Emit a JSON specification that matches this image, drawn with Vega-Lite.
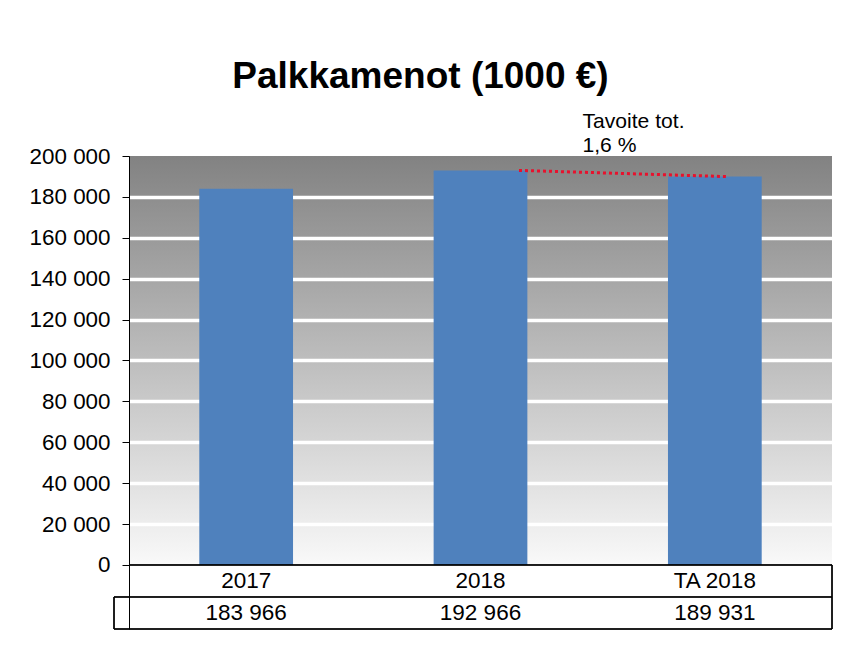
{
  "$schema": "https://vega.github.io/schema/vega-lite/v6.json",
  "autosize": "none",
  "padding": {"left": 129, "top": 156, "right": 23, "bottom": 37},
  "width": 703,
  "height": 473,
  "background": "white",
  "title": {
    "text": "Palkkamenot (1000 €)",
    "fontSize": 37,
    "fontWeight": "bold",
    "font": "Liberation Sans",
    "color": "black",
    "anchor": "middle",
    "frame": "group",
    "dx": -60,
    "offset": 15
  },
  "config": {
    "font": "Liberation Sans",
    "locale": {"number": {"decimal": ",", "thousands": " ", "grouping": [3], "currency": ["", " €"]}},
    "view": {
      "stroke": null,
      "fill": {
        "gradient": "linear",
        "x1": 0, "y1": 0, "x2": 0, "y2": 1,
        "stops": [
          {"offset": 0, "color": "#828282"},
          {"offset": 0.8647, "color": "#f9f9f9"},
          {"offset": 0.8648, "color": "#ffffff"},
          {"offset": 1, "color": "#ffffff"}
        ]
      }
    }
  },
  "data": {
    "values": [
      {"vuosi": "2017", "palkkamenot": 183966},
      {"vuosi": "2018", "palkkamenot": 192966},
      {"vuosi": "TA 2018", "palkkamenot": 189931}
    ]
  },
  "encoding": {
    "x": {
      "field": "vuosi",
      "type": "nominal",
      "sort": null,
      "scale": {"paddingInner": 0.6, "paddingOuter": 0.3},
      "axis": null
    }
  },
  "layer": [
    {
      "mark": {"type": "bar", "color": "#4F81BD"},
      "encoding": {
        "y": {
          "field": "palkkamenot",
          "type": "quantitative",
          "scale": {"domain": [-31300, 200000], "nice": false, "zero": false},
          "axis": {
            "title": null,
            "values": [0, 20000, 40000, 60000, 80000, 100000, 120000, 140000, 160000, 180000, 200000],
            "format": ",d",
            "labelFontSize": 22.4,
            "labelColor": "black",
            "labelPadding": 12,
            "tickSize": 7,
            "tickColor": "black",
            "domainColor": "black",
            "domainWidth": 1,
            "grid": true,
            "gridColor": "white",
            "gridWidth": 3.5,
            "gridOpacity": {"condition": {"test": "datum.value > 0 && datum.value < 200000", "value": 1}, "value": 0}
          }
        },
        "y2": {"datum": 0}
      }
    },
    {
      "mark": {"type": "rule", "color": "black", "strokeWidth": 1},
      "encoding": {"x": null, "y": {"datum": 0}}
    },
    {
      "mark": {"type": "rule", "color": "black", "strokeWidth": 1, "xOffset": -15, "x2Offset": 0},
      "encoding": {"x": {"value": 0}, "x2": {"value": "width"}, "y": {"datum": -15650}}
    },
    {
      "mark": {"type": "rule", "color": "black", "strokeWidth": 1, "xOffset": -15, "x2Offset": 0},
      "encoding": {"x": {"value": 0}, "x2": {"value": "width"}, "y": {"datum": -31300}}
    },
    {
      "mark": {"type": "rule", "color": "black", "strokeWidth": 1, "xOffset": -15},
      "encoding": {"x": {"value": 0}, "y": {"datum": -15650}, "y2": {"datum": -31300}}
    },
    {
      "mark": {"type": "rule", "color": "black", "strokeWidth": 1},
      "encoding": {"x": {"value": "width"}, "y": {"datum": 0}, "y2": {"datum": -31300}}
    },
    {
      "mark": {"type": "text", "fontSize": 22.5, "color": "black", "baseline": "middle", "align": "center"},
      "encoding": {"text": {"field": "vuosi"}, "y": {"datum": -7825}}
    },
    {
      "mark": {"type": "text", "fontSize": 22.5, "color": "black", "baseline": "middle", "align": "center"},
      "encoding": {"text": {"field": "palkkamenot", "type": "quantitative", "format": ",d"}, "y": {"datum": -23475}}
    },
    {
      "data": {"values": [{"alku": "2018", "loppu": "TA 2018", "alkuarvo": 192966, "loppuarvo": 189931, "teksti": "Tavoite tot.\n1,6 %"}]},
      "layer": [
        {
          "mark": {"type": "rule", "color": "#E8112D", "strokeWidth": 3, "strokeDash": [3, 3], "xOffset": 38.5, "x2Offset": 12},
          "encoding": {
            "x": {"field": "alku", "type": "nominal"},
            "x2": {"field": "loppu"},
            "y": {"field": "alkuarvo", "type": "quantitative"},
            "y2": {"field": "loppuarvo"}
          }
        },
        {
          "mark": {"type": "text", "fontSize": 21.1, "color": "black", "align": "left", "baseline": "alphabetic", "lineBreak": "\n", "lineHeight": 23.5, "dx": 102, "dy": -28},
          "encoding": {
            "x": {"field": "alku", "type": "nominal"},
            "y": {"datum": 200000},
            "text": {"field": "teksti"}
          }
        }
      ]
    }
  ]
}
